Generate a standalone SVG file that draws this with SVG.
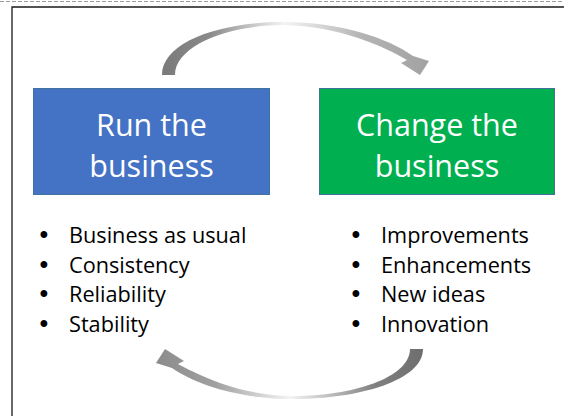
<svg xmlns="http://www.w3.org/2000/svg" width="564" height="416" viewBox="0 0 564 416">
  <style>
    .box { stroke: #41719C; stroke-width: 1; }
    .title { font-family: "Open Sans", "Liberation Sans", sans-serif; font-size: 30.5px; fill: #ffffff; text-anchor: middle; }
    .item { font-family: "Open Sans", "Liberation Sans", sans-serif; font-size: 21.7px; fill: #000000; }
    .dot { font-family: "Liberation Sans", sans-serif; font-size: 25px; fill: #000000; text-anchor: middle; }
  </style>
  <defs>
    <linearGradient id="gradTop" gradientUnits="userSpaceOnUse" x1="162" y1="0" x2="428" y2="0">
      <stop offset="0" stop-color="#7a7a7a"/>
      <stop offset="0.18" stop-color="#8a8a8a"/>
      <stop offset="0.46" stop-color="#f4f4f4"/>
      <stop offset="0.75" stop-color="#b4b4b4"/>
      <stop offset="1" stop-color="#a2a2a2"/>
    </linearGradient>
    <linearGradient id="gradBottom" gradientUnits="userSpaceOnUse" x1="423" y1="0" x2="157" y2="0">
      <stop offset="0" stop-color="#6e6e6e"/>
      <stop offset="0.18" stop-color="#808080"/>
      <stop offset="0.5" stop-color="#f4f4f4"/>
      <stop offset="0.78" stop-color="#a0a0a0"/>
      <stop offset="1" stop-color="#8c8c8c"/>
    </linearGradient>
  </defs>

  <rect width="564" height="416" fill="#ffffff"/>

  <!-- page frame -->
  <line x1="0" y1="1.5" x2="564" y2="1.5" stroke="#9a9a9a" stroke-width="1" stroke-dasharray="4 2"/>
  <path d="M12,416 V7 H564" fill="none" stroke="#1a1a1a" stroke-width="1.3"/>

  <!-- cycle arrows -->
  <g id="connectors">
    <path id="arrow-run-to-change" fill="url(#gradTop)"
          d="M162,75 C162,42 220,22 283,22 C340,22 388,38 413,56 L429,61 L420,75 L401,63 L407,60 C385,47 340,26 283,25 C230,25 175,45 175,75 Z"/>
    <path id="arrow-change-to-run" fill="url(#gradBottom)"
          d="M423,349 C423,380 360,399 293,399 C240,399 197,385 172,368 L156,363 L165,349 L184,361 L178,364 C200,376 242,396 293,396 C352,396 410,378 410,349 Z"/>
  </g>

  <!-- run the business -->
  <g id="run">
    <rect class="box" x="33.5" y="88.5" width="236" height="106" fill="#4472C4"/>
    <text class="title" x="151.5" y="135.5">Run the</text>
    <text class="title" x="151.5" y="176.5">business</text>
  </g>
  <g id="run-list">
    <text class="dot" x="44" y="243">•</text>
    <text class="item" x="69" y="243">Business as usual</text>
    <text class="dot" x="44" y="272.7">•</text>
    <text class="item" x="69" y="272.7">Consistency</text>
    <text class="dot" x="44" y="302.4">•</text>
    <text class="item" x="69" y="302.4">Reliability</text>
    <text class="dot" x="44" y="332.1">•</text>
    <text class="item" x="69" y="332.1">Stability</text>
  </g>

  <!-- change the business -->
  <g id="change">
    <rect class="box" x="319.5" y="88.5" width="235" height="106" fill="#00B050"/>
    <text class="title" x="437" y="135.5">Change the</text>
    <text class="title" x="437" y="176.5">business</text>
  </g>
  <g id="change-list">
    <text class="dot" x="356" y="243">•</text>
    <text class="item" x="381" y="243">Improvements</text>
    <text class="dot" x="356" y="272.7">•</text>
    <text class="item" x="381" y="272.7">Enhancements</text>
    <text class="dot" x="356" y="302.4">•</text>
    <text class="item" x="381" y="302.4">New ideas</text>
    <text class="dot" x="356" y="332.1">•</text>
    <text class="item" x="381" y="332.1">Innovation</text>
  </g>
</svg>
